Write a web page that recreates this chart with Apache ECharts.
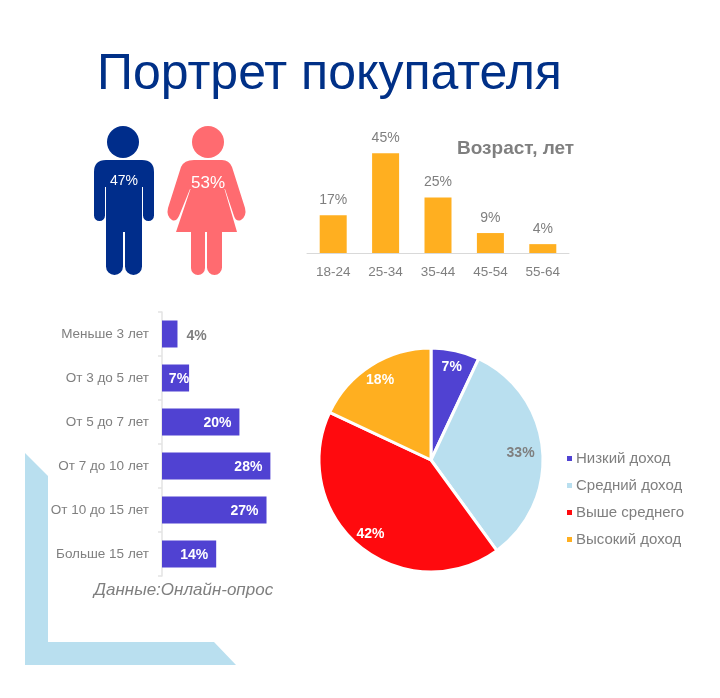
<!DOCTYPE html>
<html>
<head>
<meta charset="utf-8">
<script src="https://cdn.jsdelivr.net/npm/echarts@6/dist/echarts.min.js"></script>
<style>
html,body{margin:0;padding:0;background:#fff}
#chart{width:720px;height:698px}
</style>
</head>
<body>
<div id="chart"></div>
<script>
const titleText = 'Портрет покупателя';
const ageTitle = 'Возраст, лет';
const sourceNote = 'Данные:Онлайн-опрос';

const genderLabels = ['47%', '53%'];

const ageCategories = ['18-24', '25-34', '35-44', '45-54', '55-64'];
const ageValues = [17, 45, 25, 9, 4];

const tenureCategories = ['Меньше 3 лет', 'От 3 до 5 лет', 'От 5 до 7 лет', 'От 7 до 10 лет', 'От 10 до 15 лет', 'Больше 15 лет'];
const tenureValues = [4, 7, 20, 28, 27, 14];

const incomeNames = ['Низкий доход', 'Средний доход', 'Выше среднего', 'Высокий доход'];
const incomeValues = [7, 33, 42, 18];
const incomeColors = ['#5042d2', '#b9dfef', '#ff0a0e', '#ffaf20'];
const incomeLabelColors = ['#fff', '#7f7f7f', '#fff', '#fff'];
const incomeLabelOffsets = [[0, 0], [-5, 2], [0, 1], [0, 0]];

const GRAY = '#7f7f7f';
const FONT = '"Liberation Sans", Arial, sans-serif';

const manPath = 'M106,160 H142 Q154,160 154,172 V215.5 A5.5,5.5 0 0 1 143,215.5 V187 H142 V266.5 A8.5,8.5 0 0 1 125,266.5 V232 H123 V266.5 A8.5,8.5 0 0 1 106,266.5 V187 H105 V215.5 A5.5,5.5 0 0 1 94,215.5 V172 Q94,160 106,160 Z';
const womanPath = 'M194,160 H222 Q229,160 232,167 L245,208 Q247,216 241,220 Q236,222 234,216 L225,189 H224.5 L237,232 H222 V267.5 A7.5,7.5 0 0 1 207,267.5 V232 H205 V268 A7,7 0 0 1 191,268 V232 H176 L190.5,189 H190 L179,216 Q176,222 172,220 Q166,216 168,208 L181,167 Q184,160 194,160 Z';

echarts.graphic.registerShape('manBody', echarts.graphic.extendPath(manPath));
echarts.graphic.registerShape('womanBody', echarts.graphic.extendPath(womanPath));

let myChart = echarts.init(document.getElementById('chart'), null, {renderer: 'canvas'});

let option = {
	backgroundColor: '#fff',
	animation: false,
	textStyle: {fontFamily: FONT},
	graphic: [
		{
			type: 'polygon', z: 0, silent: true,
			shape: {points: [[25, 453], [48, 476], [48, 642], [214, 642], [236, 665], [25, 665]]},
			style: {fill: '#b9dfef'}
		},
		{
			type: 'text', left: 97, top: 50, z: 5,
			style: {text: titleText, fill: '#003087', font: '50px ' + FONT}
		},
		{type: 'circle', shape: {cx: 123, cy: 142, r: 16}, style: {fill: '#002d8b'}},
		{type: 'manBody', z: 1, style: {fill: '#002d8b'}},
		{type: 'circle', shape: {cx: 208, cy: 142, r: 16}, style: {fill: '#ff6b70'}},
		{type: 'womanBody', z: 1, style: {fill: '#ff6b70'}},
		{
			type: 'text', left: 110, top: 174, z: 5,
			style: {text: genderLabels[0], fill: '#fff', font: '14px ' + FONT}
		},
		{
			type: 'text', left: 191, top: 175, z: 5,
			style: {text: genderLabels[1], fill: '#fff', font: '17px ' + FONT}
		},
		{
			type: 'text', left: 457, top: 139, z: 5,
			style: {text: ageTitle, fill: GRAY, font: 'bold 19px ' + FONT}
		},
		{
			type: 'text', left: 94, top: 582, z: 5,
			style: {text: sourceNote, fill: GRAY, font: 'italic 17px ' + FONT}
		}
	],
	grid: [
		{left: 307, top: 130, width: 262, height: 123},
		{left: 162, top: 312, width: 120, height: 264}
	],
	xAxis: [
		{
			gridIndex: 0, type: 'category', data: ageCategories,
			axisLine: {lineStyle: {color: '#d9d9d9'}},
			axisTick: {show: false},
			axisLabel: {color: GRAY, fontSize: 13.5, margin: 12}
		},
		{gridIndex: 1, type: 'value', min: 0, max: 31, show: false}
	],
	yAxis: [
		{gridIndex: 0, type: 'value', min: 0, max: 55.5, show: false},
		{
			gridIndex: 1, type: 'category', data: tenureCategories, inverse: true,
			axisLine: {lineStyle: {color: '#e3e3e3', width: 1.5}},
			axisTick: {show: true, length: 4, lineStyle: {color: '#e3e3e3', width: 1.5}},
			axisLabel: {color: GRAY, fontSize: 13.5, margin: 13}
		}
	],
	legend: {
		orient: 'vertical', left: 560, top: 446, itemGap: 12,
		itemWidth: 7, itemHeight: 7, icon: 'rect',
		data: incomeNames,
		textStyle: {color: GRAY, fontSize: 15, padding: [0, 0, 0, -2]}
	},
	series: [
		{
			type: 'bar', xAxisIndex: 0, yAxisIndex: 0, barWidth: 27,
			data: ageValues,
			itemStyle: {color: '#ffaf20'},
			label: {show: true, position: 'top', distance: 8, color: GRAY, fontSize: 14, formatter: '{c}%'}
		},
		{
			type: 'bar', xAxisIndex: 1, yAxisIndex: 1, barWidth: 27,
			data: tenureValues.map(v => ({
				value: v,
				label: v < 7
					? {position: 'right', distance: 9, color: GRAY, offset: [0, 2]}
					: v < 10
						? {position: 'insideRight', distance: 0, offset: [0, 1]}
						: {position: 'insideRight', distance: 8, offset: [0, 1]}
			})),
			itemStyle: {color: '#5042d2'},
			label: {show: true, color: '#fff', fontSize: 14, fontWeight: 'bold', formatter: '{c}%'}
		},
		{
			type: 'pie', center: [431, 460], radius: [0, 112], startAngle: 90, clockwise: true,
			silent: true,
			data: incomeNames.map((n, i) => ({name: n, value: incomeValues[i], itemStyle: {color: incomeColors[i]}})),
			itemStyle: {borderColor: '#fff', borderWidth: 3},
			label: {show: false},
			labelLine: {show: false}
		},
		{
			// прозрачное кольцо, чтобы подписи стояли ближе к краю
			type: 'pie', center: [431, 460], radius: [73, 111], startAngle: 90, clockwise: true,
			silent: true, legendHoverLink: false,
			data: incomeNames.map((n, i) => ({
				name: n + ' ',
				value: incomeValues[i],
				itemStyle: {color: 'rgba(0,0,0,0)'},
				label: {color: incomeLabelColors[i], offset: incomeLabelOffsets[i]}
			})),
			label: {show: true, position: 'inside', fontSize: 14, fontWeight: 'bold', formatter: '{c}%'},
			labelLine: {show: false}
		}
	]
};

myChart.setOption(option);
</script>
</body>
</html>
